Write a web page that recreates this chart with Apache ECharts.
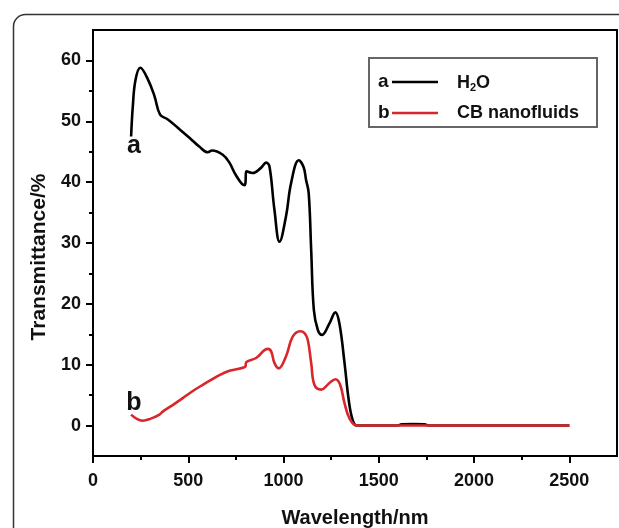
<!DOCTYPE html>
<html>
<head>
<meta charset="utf-8">
<script src="https://cdn.jsdelivr.net/npm/echarts@6/dist/echarts.min.js"></script>
<style>
html,body{margin:0;padding:0;background:#fff;}
#chart{width:619px;height:528px;}
</style>
</head>
<body>
<div id="chart"></div>
<script>
// Wavelength (nm) / Transmittance (%)
const waterWavelength = [200,209,223,248,288,323,352,393,454,506,559,602,625,681,716,751,795,800,804,838,880,909,926,952,979,1013,1040,1080,1105,1118,1132,1145,1159,1180,1202,1241,1272,1293,1320,1342,1363,1385,1600,1620,1680,1740,1760,2500];
const waterTransmittance = [47.5,52.5,56.8,58.8,56.9,54.1,51.1,50.3,48.7,47.3,45.8,44.9,45.2,44.5,43.2,41.1,39.5,39.8,41.8,41.5,42.3,43.2,42.6,35.5,30.2,34.4,39.9,43.6,42.5,40.4,38.2,28.9,19.0,15.7,14.9,16.8,18.6,16.8,10.3,4.2,0.9,0,0,0.2,0.25,0.2,0,0];
const cbWavelength = [200,230,261,300,349,366,420,471,520,576,620,664,716,760,795,800,804,856,917,935,952,975,1013,1048,1087,1110,1127,1145,1162,1197,1241,1272,1297,1320,1346,1385,2500];
const cbTransmittance = [1.8,1.1,0.8,1.1,1.8,2.3,3.4,4.5,5.6,6.7,7.5,8.3,9.0,9.3,9.6,9.7,10.4,11.1,12.6,12.2,10.3,9.4,11.4,14.6,15.5,15.2,14.1,10.3,6.7,5.9,7.0,7.6,6.7,3.7,1.2,0,0];

const xMajorTicks = [0,500,1000,1500,2000,2500];
const xMinorTicks = [250,750,1250,1750,2250];
const yMajorTicks = [0,10,20,30,40,50,60];
const yMinorTicks = [5,15,25,35,45,55];

const seriesNames = ['H₂O','CB nanofluids'];
const curveLabels = ['a','b'];

const FONT = '"Liberation Sans", Arial, sans-serif';
const RED = '#d8262b';

function pairs(xs, ys){ return xs.map((x,i)=>[x, ys[i]]); }

const chart = echarts.init(document.getElementById('chart'), null, {renderer:'canvas'});

const axisBase = {
  type:'value',
  splitLine:{show:false}
};

const labelStyle = {fontFamily:FONT, fontSize:18, fontWeight:'bold', color:'#111', formatter:function(v){return String(v);}};

const option = {
  backgroundColor:'#fff',
  animation:false,
  grid:{left:93, right:2, top:30, bottom:72, containLabel:false, outerBoundsMode:'none', show:true, borderColor:'#000', borderWidth:2},
  xAxis:[
    Object.assign({}, axisBase, {
      min:0, max:2750, interval:500,
      position:'bottom',
      name:'Wavelength/nm', nameLocation:'middle', nameGap:52,
      nameTextStyle:{fontFamily:FONT, fontSize:20, fontWeight:'bold', color:'#111'},
      axisLine:{show:true, onZero:false, lineStyle:{color:'#000', width:2}},
      axisTick:{show:true, inside:false, length:7, lineStyle:{color:'#000', width:2}, customValues:xMajorTicks},
      axisLabel:Object.assign({show:true, margin:16, customValues:xMajorTicks}, labelStyle)
    }),
    Object.assign({}, axisBase, {
      min:0, max:2750, interval:500,
      position:'bottom',
      axisLine:{show:false, onZero:false},
      axisTick:{show:true, inside:false, length:4, lineStyle:{color:'#000', width:2}, customValues:xMinorTicks},
      axisLabel:{show:false}
    })
  ],
  yAxis:[
    Object.assign({}, axisBase, {
      min:-5, max:65, interval:5,
      position:'left',
      axisLine:{show:true, onZero:false, lineStyle:{color:'#000', width:2}},
      axisTick:{show:true, inside:false, length:7, lineStyle:{color:'#000', width:2}, customValues:yMajorTicks},
      axisLabel:Object.assign({show:true, margin:12, customValues:yMajorTicks}, labelStyle)
    }),
    Object.assign({}, axisBase, {
      min:-5, max:65, interval:5,
      position:'left', offset:0,
      axisLine:{show:false, onZero:false},
      axisTick:{show:true, inside:false, length:4, lineStyle:{color:'#000', width:2}, customValues:yMinorTicks},
      axisLabel:{show:false}
    })
  ],
  series:[
    {
      name:seriesNames[0], type:'line', xAxisIndex:0, yAxisIndex:0,
      data:pairs(waterWavelength, waterTransmittance),
      showSymbol:false, smooth:0.4,
      lineStyle:{color:'#000', width:2.6, join:'round'},
      itemStyle:{color:'#000'},
      z:2
    },
    {
      name:seriesNames[1], type:'line', xAxisIndex:0, yAxisIndex:0,
      data:pairs(cbWavelength, cbTransmittance),
      showSymbol:false, smooth:0.4,
      lineStyle:{color:RED, width:2.6, join:'round'},
      itemStyle:{color:RED},
      z:3
    }
  ],
  graphic:[
    // outer rounded frame
    {type:'rect', left:11, top:12, z:-1, silent:true,
     shape:{x:0, y:0, width:700, height:600, r:12},
     style:{fill:'none', stroke:'#333', lineWidth:1.5}},
    // y axis title
    {type:'text', x:39, y:257, rotation:Math.PI/2, silent:true,
     style:{text:'Transmittance/%', fontFamily:FONT, fontSize:21, fontWeight:'bold', fill:'#111', align:'center', verticalAlign:'middle'}},
    // curve labels
    {type:'text', x:134, y:146, silent:true,
     style:{text:curveLabels[0], fontFamily:FONT, fontSize:25, fontWeight:'bold', fill:'#111', align:'center', verticalAlign:'middle'}},
    {type:'text', x:134, y:403, silent:true,
     style:{text:curveLabels[1], fontFamily:FONT, fontSize:25, fontWeight:'bold', fill:'#111', align:'center', verticalAlign:'middle'}},
    // legend box
    {type:'rect', silent:true, z:10,
     shape:{x:369, y:58, width:228, height:69},
     style:{fill:'#fff', stroke:'#666', lineWidth:2}},
    {type:'text', x:378, y:82, silent:true, z:11,
     style:{text:curveLabels[0], fontFamily:FONT, fontSize:19, fontWeight:'bold', fill:'#111', align:'left', verticalAlign:'middle'}},
    {type:'line', silent:true, z:11, shape:{x1:392, y1:82, x2:438, y2:82}, style:{stroke:'#000', lineWidth:2.5}},
    {type:'text', x:457, y:83, silent:true, z:11,
     style:{text:'{n|H}{s|2}{n|O}', fontFamily:FONT, fontWeight:'bold', fill:'#111', align:'left', verticalAlign:'middle',
       rich:{n:{fontFamily:FONT, fontSize:18, fontWeight:'bold', fill:'#111'},
             s:{fontFamily:FONT, fontSize:11, fontWeight:'bold', fill:'#111', padding:[10,0,0,0]}}}},
    {type:'text', x:378, y:113, silent:true, z:11,
     style:{text:curveLabels[1], fontFamily:FONT, fontSize:19, fontWeight:'bold', fill:'#111', align:'left', verticalAlign:'middle'}},
    {type:'line', silent:true, z:11, shape:{x1:392, y1:113, x2:438, y2:113}, style:{stroke:RED, lineWidth:2.5}},
    {type:'text', x:457, y:113, silent:true, z:11,
     style:{text:seriesNames[1], fontFamily:FONT, fontSize:18, fontWeight:'bold', fill:'#111', align:'left', verticalAlign:'middle'}}
  ]
};
chart.setOption(option);
</script>
</body>
</html>
